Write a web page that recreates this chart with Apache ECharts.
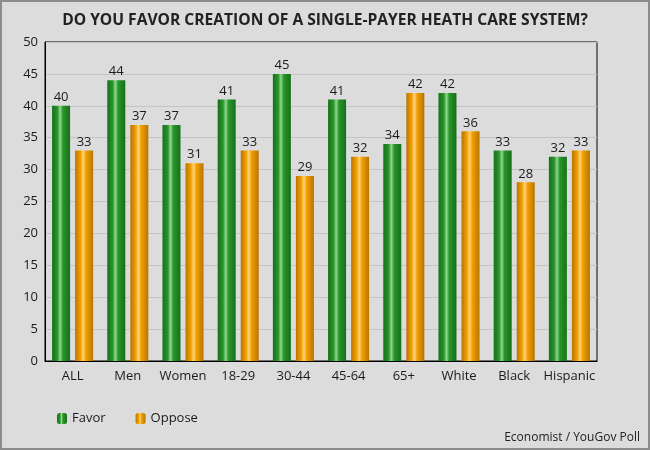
<!DOCTYPE html>
<html>
<head>
<meta charset="utf-8">
<script src="https://cdn.jsdelivr.net/npm/echarts@6/dist/echarts.min.js"></script>
<style>
html,body{margin:0;padding:0;background:#dcdcdc;}
#c{width:650px;height:450px;box-sizing:border-box;border:2px solid #8c8c8c;background:#dcdcdc;}
</style>
</head>
<body>
<div id="c"></div>
<script>
const categories = ['ALL','Men','Women','18-29','30-44','45-64','65+','White','Black','Hispanic'];
const favor = [40,44,37,41,45,41,34,42,33,32];
const oppose = [33,37,31,33,29,32,42,36,28,33];
const yTicks = {min:0, max:50, interval:5};

function grad(edge, mid, hi){
  return new echarts.graphic.LinearGradient(0,0,1,0,[
    {offset:0, color:edge},{offset:0.3, color:mid},{offset:0.45, color:hi},
    {offset:0.6, color:mid},{offset:1, color:edge}
  ]);
}
const greenG = grad('#15701a','#2a952a','#8fd88f');
const orangeG = grad('#b87400','#f2a000','#ffd27a');

const chart = echarts.init(document.getElementById('c'), null, {renderer:'canvas'});
const lbl = {show:true, position:'top', distance:2, color:'#1a1a1a', fontSize:13, fontFamily:'Open Sans'};
chart.setOption({
  backgroundColor:'#dcdcdc',
  animation:false,
  title:{text:'DO YOU FAVOR CREATION OF A SINGLE-PAYER HEATH CARE SYSTEM?', left:'center', top:6,
    textStyle:{fontFamily:'Open Sans', fontSize:15.6, fontWeight:'bold', color:'#222'}},
  graphic:[{type:'text', right:8, bottom:4, style:{text:'Economist / YouGov Poll', fontFamily:'Open Sans', fontSize:12, fill:'#222'}}],
  legend:{left:50, top:405, itemWidth:10, itemHeight:11, itemGap:30,
    textStyle:{fontFamily:'Open Sans', fontSize:13, color:'#1a1a1a'},
    data:['Favor','Oppose']},
  grid:{left:43, right:51, top:40, bottom:87, show:true, borderColor:'#000', borderWidth:1, backgroundColor:'transparent'},
  xAxis:{type:'category', data:categories,
    axisLine:{lineStyle:{color:'#000'}}, axisTick:{show:false},
    axisLabel:{interval:0, fontFamily:'Open Sans', fontSize:13, color:'#1a1a1a', margin:9}},
  yAxis:{type:'value', min:yTicks.min, max:yTicks.max, interval:yTicks.interval,
    axisLine:{show:true, lineStyle:{color:'#000'}}, axisTick:{show:false},
    splitLine:{lineStyle:{color:'#c4c4c4'}},
    axisLabel:{fontFamily:'Open Sans', fontSize:13, color:'#1a1a1a', margin:7}},
  series:[
    {name:'Favor', type:'bar', data:favor, barWidth:18, barGap:'28%', itemStyle:{color:greenG}, label:lbl},
    {name:'Oppose', type:'bar', data:oppose, barWidth:18, itemStyle:{color:orangeG}, label:lbl}
  ]
});
</script>
</body>
</html>
